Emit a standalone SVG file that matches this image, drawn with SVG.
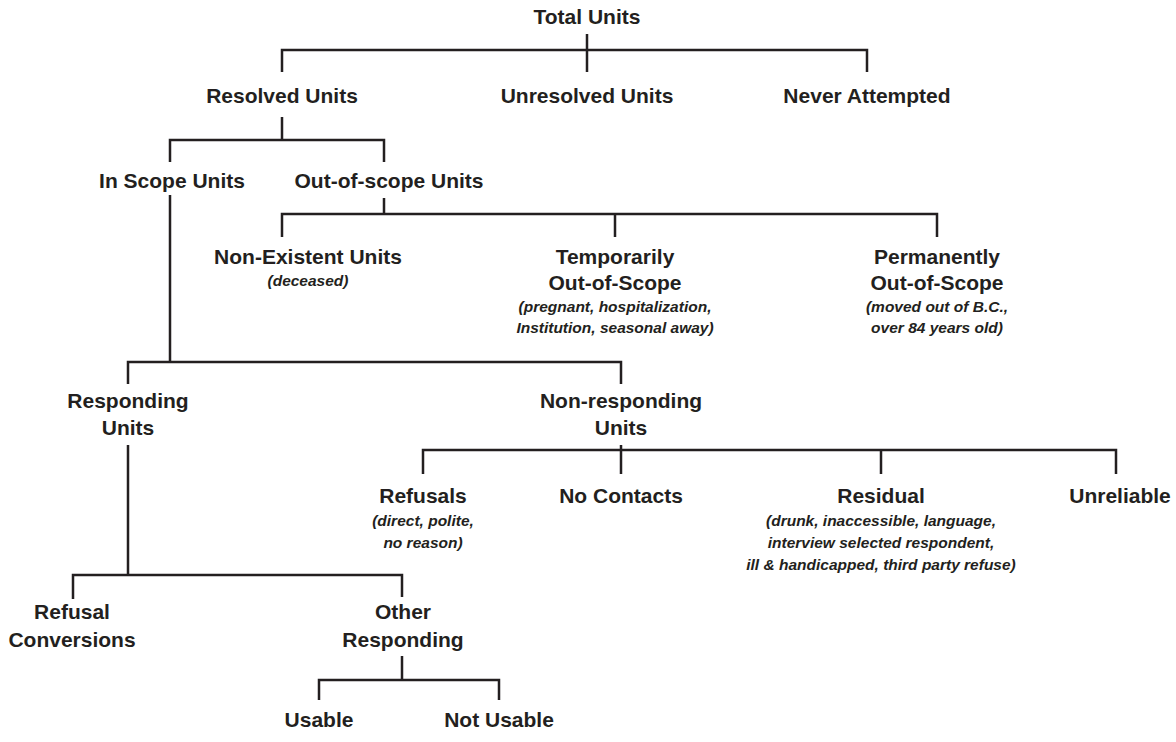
<svg xmlns="http://www.w3.org/2000/svg" width="1176" height="742" viewBox="0 0 1176 742">
<style>
.b{font-family:"Liberation Sans",Arial,sans-serif;font-weight:bold;font-size:21px;fill:#231f20;text-anchor:middle}
.i{font-family:"Liberation Sans",Arial,sans-serif;font-weight:bold;font-style:italic;font-size:15.5px;fill:#231f20;text-anchor:middle}
.c{fill:none;stroke:#231f20;stroke-width:2.5;stroke-linecap:butt;stroke-linejoin:miter}
</style>
<rect width="1176" height="742" fill="#ffffff"/>
<g id="connectors" class="c">
<path d="M587,34V72M282,72V50H867V72"/>
<path d="M282,117V140M170,162V140H384V162"/>
<path d="M384,198V214M282,237V214H937V237M615,214V237"/>
<path d="M170,195V362M128,384V362H621V384"/>
<path d="M128,445V575M73,599V575H402V597"/>
<path d="M402,656V680M319,700V680H499V700"/>
<path d="M621,445V474M423,474V450H1116V474M881,450V474"/>
</g>
<g id="total"><text class="b" x="587" y="24">Total Units</text></g>
<g id="resolved"><text class="b" x="282" y="103">Resolved Units</text></g>
<g id="unresolved"><text class="b" x="587" y="103">Unresolved Units</text></g>
<g id="never"><text class="b" x="867" y="103">Never Attempted</text></g>
<g id="inscope"><text class="b" x="172" y="188">In Scope Units</text></g>
<g id="outscope"><text class="b" x="389" y="188">Out-of-scope Units</text></g>
<g id="nonexistent"><text class="b" x="308" y="264">Non-Existent Units</text><text class="i" x="308" y="286">(deceased)</text></g>
<g id="temporarily"><text class="b" x="615" y="264">Temporarily</text><text class="b" x="615" y="290">Out-of-Scope</text><text class="i" x="615" y="312">(pregnant, hospitalization,</text><text class="i" x="615" y="333">Institution, seasonal away)</text></g>
<g id="permanently"><text class="b" x="937" y="264">Permanently</text><text class="b" x="937" y="290">Out-of-Scope</text><text class="i" x="937" y="312">(moved out of B.C.,</text><text class="i" x="937" y="333">over 84 years old)</text></g>
<g id="responding"><text class="b" x="128" y="408">Responding</text><text class="b" x="128" y="435">Units</text></g>
<g id="nonresponding"><text class="b" x="621" y="408">Non-responding</text><text class="b" x="621" y="435">Units</text></g>
<g id="refusals"><text class="b" x="423" y="503">Refusals</text><text class="i" x="423" y="526">(direct, polite,</text><text class="i" x="423" y="548">no reason)</text></g>
<g id="nocontacts"><text class="b" x="621" y="503">No Contacts</text></g>
<g id="residual"><text class="b" x="881" y="503">Residual</text><text class="i" x="881" y="526">(drunk, inaccessible, language,</text><text class="i" x="881" y="548">interview selected respondent,</text><text class="i" x="881" y="570">ill &amp; handicapped, third party refuse)</text></g>
<g id="unreliable"><text class="b" x="1120" y="503">Unreliable</text></g>
<g id="refusalconv"><text class="b" x="72" y="619">Refusal</text><text class="b" x="72" y="647">Conversions</text></g>
<g id="otherresp"><text class="b" x="403" y="619">Other</text><text class="b" x="403" y="647">Responding</text></g>
<g id="usable"><text class="b" x="319" y="727">Usable</text></g>
<g id="notusable"><text class="b" x="499" y="727">Not Usable</text></g>
</svg>
